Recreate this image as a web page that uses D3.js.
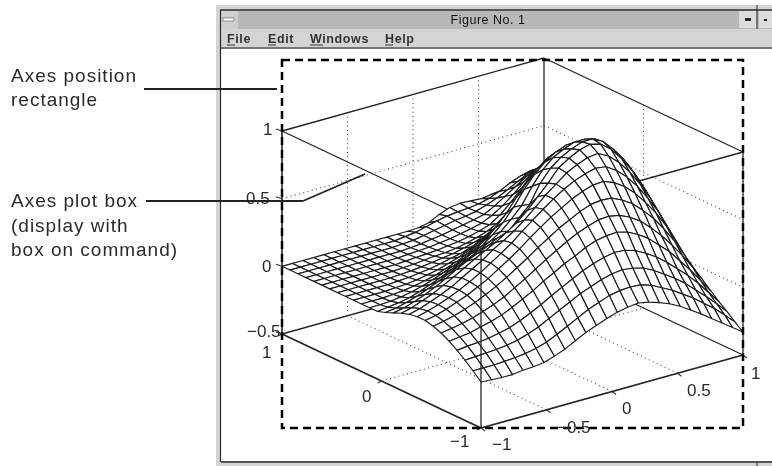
<!DOCTYPE html>
<html><head><meta charset="utf-8">
<script src="https://cdn.jsdelivr.net/npm/d3@7/dist/d3.min.js"></script>
<style>html,body{margin:0;padding:0;background:#fff;overflow:hidden}svg{display:block}
text{font-family:"Liberation Sans",Arial,sans-serif;fill:#2a2a2a}</style></head><body>
<svg id="c" width="772" height="466"><defs><filter id="soft" x="0" y="0" width="100%" height="100%"><feGaussianBlur stdDeviation="0.38"/></filter></defs></svg>
<script>
const xGrid = [-1,-.92,-.84,-.76,-.68,-.6,-.52,-.44,-.36,-.28,-.2,-.12,-.04,.04,.12,.2,.28,.36,.44,.52,.6,.68,.76,.84,.92,1];
const yGrid = [-1,-.92,-.84,-.76,-.68,-.6,-.52,-.44,-.36,-.28,-.2,-.12,-.04,.04,.12,.2,.28,.36,.44,.52,.6,.68,.76,.84,.92,1];
// surface heights, one row per yGrid value, one column per xGrid value
const zRows = [
[-.16,-.165,-.17,-.17,-.16,-.155,-.145,-.12,-.09,-.05,-.01,.02,.05,.075,.09,.10,.085,.06,.03,-.01,-.06,-.11,-.165,-.22,-.275,-.33],
[-.105,-.105,-.105,-.10,-.095,-.085,-.07,-.045,-.01,.03,.07,.11,.14,.17,.185,.19,.185,.16,.12,.08,.03,-.02,-.08,-.14,-.21,-.285],
[-.055,-.05,-.045,-.04,-.03,-.015,.01,.04,.08,.12,.16,.2,.23,.26,.28,.29,.28,.26,.22,.17,.12,.06,-.01,-.08,-.155,-.235],
[-.01,0,.005,.015,.03,.05,.08,.115,.155,.2,.24,.28,.32,.35,.375,.39,.385,.36,.32,.27,.21,.14,.07,-.01,-.10,-.19],
[.03,.04,.05,.07,.09,.115,.15,.19,.23,.28,.32,.365,.4,.44,.47,.485,.49,.47,.43,.38,.31,.24,.15,.06,-.04,-.14],
[.063,.075,.09,.11,.135,.165,.2,.245,.29,.34,.39,.435,.48,.52,.55,.575,.58,.565,.53,.48,.41,.33,.24,.14,.03,-.09],
[.085,.10,.12,.145,.175,.21,.25,.295,.345,.395,.45,.5,.55,.59,.63,.66,.67,.665,.63,.58,.51,.43,.33,.22,.09,-.04],
[.10,.115,.14,.17,.2,.24,.28,.33,.38,.435,.495,.55,.605,.65,.695,.73,.755,.76,.73,.68,.61,.52,.42,.3,.16,.01],
[.10,.12,.145,.175,.21,.25,.295,.345,.395,.45,.515,.575,.635,.69,.74,.78,.81,.83,.82,.77,.70,.61,.5,.38,.23,.07],
[.09,.11,.14,.17,.205,.25,.295,.34,.395,.44,.49,.55,.62,.69,.75,.81,.85,.88,.89,.85,.78,.69,.58,.45,.30,.13],
[.07,.09,.12,.15,.19,.23,.275,.32,.36,.40,.45,.50,.57,.65,.73,.82,.87,.91,.93,.91,.85,.76,.65,.52,.37,.21],
[.045,.06,.085,.115,.15,.19,.235,.275,.31,.345,.385,.41,.49,.565,.70,.79,.85,.89,.92,.92,.88,.80,.70,.58,.44,.29],
[.02,.03,.05,.075,.105,.14,.175,.215,.25,.29,.33,.38,.45,.53,.65,.75,.82,.86,.89,.89,.87,.81,.73,.63,.50,.36],
[0,.01,.02,.035,.06,.09,.12,.155,.195,.235,.27,.33,.40,.49,.60,.69,.76,.81,.84,.84,.83,.79,.73,.65,.54,.41],
[0,0,.005,.015,.03,.05,.075,.105,.135,.17,.21,.26,.33,.41,.51,.60,.68,.74,.77,.78,.77,.74,.70,.64,.55,.45],
[0,0,0,.005,.012,.025,.04,.06,.085,.115,.15,.19,.24,.30,.38,.47,.56,.64,.69,.71,.71,.69,.66,.62,.55,.48],
[0,0,0,0,.005,.01,.02,.035,.05,.075,.10,.13,.17,.21,.27,.34,.42,.51,.58,.63,.65,.65,.62,.59,.55,.50],
[0,0,0,0,0,.005,.01,.02,.03,.045,.065,.08,.105,.14,.18,.23,.3,.39,.48,.55,.59,.6,.59,.56,.53,.50],
[0,0,0,0,0,0,.005,.01,.018,.028,.04,.05,.07,.09,.115,.15,.21,.29,.38,.46,.52,.55,.55,.53,.51,.49],
[0,0,0,0,0,0,0,.005,.01,.018,.025,.03,.04,.055,.075,.10,.14,.2,.29,.38,.45,.49,.5,.49,.48,.46],
[0,0,0,0,0,0,0,0,.005,.01,.015,.02,.03,.04,.055,.075,.10,.15,.22,.3,.38,.42,.44,.44,.44,.42],
[0,0,0,0,0,0,0,0,0,.005,.01,.015,.025,.035,.05,.065,.085,.12,.17,.23,.3,.36,.39,.4,.39,.38],
[0,0,0,0,0,0,0,0,0,0,.005,.012,.025,.035,.05,.065,.08,.10,.14,.19,.24,.29,.33,.35,.34,.33],
[0,0,0,0,0,0,0,0,0,0,.005,.01,.025,.04,.055,.07,.08,.095,.12,.15,.19,.23,.27,.28,.29,.29],
[0,0,0,0,0,0,0,0,0,0,0,.01,.02,.04,.06,.075,.085,.09,.10,.12,.15,.19,.22,.24,.24,.24],
[0,0,0,0,0,0,0,0,0,0,0,0,0,.005,.02,.06,.09,.1,.095,.09,.1,.11,.13,.15,.18,.2]
];
const xTicks = [-1,-.5,0,.5,1];
const yTicks = [-1,0,1];
const zTicks = [-.5,0,.5,1];
const menuItems = [["File",227],["Edit",268],["Windows",310],["Help",385]];
const notes = [["Axes position",11,82],["rectangle",11,106],["Axes plot box",11,207],["(display with",11,232],["box on command)",11,256]];

const svg = d3.select("#c");
const root = svg.append("g").attr("filter","url(#soft)");

const xToH = d3.scaleLinear().domain([-1,1]).range([0,262]);
const xToV = d3.scaleLinear().domain([-1,1]).range([0,-73]);
const yToH = d3.scaleLinear().domain([-1,1]).range([0,-199]);
const yToV = d3.scaleLinear().domain([-1,1]).range([0,-94]);
const zToV = d3.scaleLinear().domain([-.5,1]).range([0,-203]);
const P = (x,y,z)=>[481+xToH(x)+yToH(y), 428+xToV(x)+yToV(y)+zToV(z)];
const seg = (g,a,b)=>g.append("line").attr("x1",a[0]).attr("y1",a[1]).attr("x2",b[0]).attr("y2",b[1]);

// window chrome
root.append("rect").attr("width",772).attr("height",466).attr("fill","#fff");
root.append("rect").attr("x",216).attr("y",5).attr("width",556).attr("height",461).attr("fill","#d4d4d4");
root.append("rect").attr("x",221).attr("y",11).attr("width",551).attr("height",18).attr("fill","#b8b8b8");
root.append("rect").attr("x",221).attr("y",11).attr("width",17).attr("height",18).attr("fill","#cfcfcf");
root.append("rect").attr("x",223).attr("y",18).attr("width",11).attr("height",3).attr("fill","#fff").attr("stroke","#555").attr("stroke-width",.6);
root.append("rect").attr("x",221).attr("y",29).attr("width",551).attr("height",18).attr("fill","#d4d4d4");
root.append("rect").attr("x",221).attr("y",49).attr("width",551).attr("height",412).attr("fill","#fff");
root.append("rect").attr("x",739).attr("y",11).attr("width",17).attr("height",17).attr("fill","#dcdcdc");
root.append("rect").attr("x",759).attr("y",11).attr("width",13).attr("height",17).attr("fill","#dcdcdc");
root.append("rect").attr("x",745).attr("y",18).attr("width",6).attr("height",3).attr("fill","#222");
root.append("rect").attr("x",764).attr("y",19).attr("width",3).attr("height",2).attr("fill","#222");
const chrome = root.append("g").attr("stroke","#2c2c2c").attr("fill","none");
seg(chrome,[220,10],[772,10]).attr("stroke-width",1.4);
seg(chrome,[220.5,10],[220.5,462]).attr("stroke-width",1.2);
seg(chrome,[221,48],[772,48]).attr("stroke-width",1.6).attr("stroke","#555");
seg(chrome,[221,462],[772,462]).attr("stroke-width",1.4);
seg(chrome,[757,5],[757,29]).attr("stroke-width",1);
seg(chrome,[757,462],[757,466]).attr("stroke-width",1);
root.append("text").attr("x",488).attr("y",24).attr("text-anchor","middle").attr("font-size",12.5).attr("letter-spacing",.5).style("fill","#111").text("Figure No. 1");
menuItems.forEach(([t,x])=>{
  root.append("text").attr("x",x).attr("y",43).attr("font-size",12.5).attr("font-weight","bold").attr("letter-spacing",.6).style("fill","#333").text(t);
  const w = t==="Windows"?13:8;
  seg(root,[x,45],[x+w,45]).attr("stroke","#333").attr("stroke-width",1);
});

// 3D box: parts behind the surface
const back = root.append("g").attr("fill","none").attr("stroke","#222").attr("stroke-width",1.3);
seg(back,P(-1,1,1),P(1,1,1)); seg(back,P(1,1,1),P(1,-1,1)); seg(back,P(1,-1,1),P(-1,-1,1)); seg(back,P(-1,-1,1),P(-1,1,1));
seg(back,P(-1,1,-.5),P(1,1,-.5)); seg(back,P(1,1,-.5),P(1,-1,-.5));
seg(back,P(1,1,-.5),P(1,1,1));
seg(back,P(-1,1,-.5),P(-1,1,1)).attr("stroke-width",1.6);

// dotted grid
const dots = root.append("g").attr("fill","none").attr("stroke","#444").attr("stroke-width",1.1).attr("stroke-dasharray","1 3.4");
xTicks.slice(1,-1).forEach(x=>{ seg(dots,P(x,-1,-.5),P(x,1,-.5)); seg(dots,P(x,1,-.5),P(x,1,1)); });
yTicks.slice(1,-1).forEach(y=>{ seg(dots,P(-1,y,-.5),P(1,y,-.5)); seg(dots,P(1,y,-.5),P(1,y,1)); });
zTicks.slice(1,-1).forEach(z=>{ seg(dots,P(-1,1,z),P(1,1,z)); seg(dots,P(1,1,z),P(1,-1,z)); });

// mesh, painted back to front with white cell fill
const cell = d3.line().curve(d3.curveLinearClosed);
const mesh = root.append("g").attr("fill","#fff").attr("stroke","#1c1c1c").attr("stroke-width",1.15).attr("stroke-linejoin","round");
for(let j=yGrid.length-2;j>=0;j--) for(let i=xGrid.length-2;i>=0;i--){
  mesh.append("path").attr("d",cell([
    P(xGrid[i],yGrid[j],zRows[j][i]),P(xGrid[i+1],yGrid[j],zRows[j][i+1]),
    P(xGrid[i+1],yGrid[j+1],zRows[j+1][i+1]),P(xGrid[i],yGrid[j+1],zRows[j+1][i])]));
}

// box edges in front
const front = root.append("g").attr("fill","none").attr("stroke","#222").attr("stroke-width",1.3);
seg(front,P(-1,-1,-.5),P(-1,-1,.82));
seg(front,P(-1,1,-.5),P(-1,-1,-.5)).attr("stroke-width",1.7);
seg(front,P(-1,-1,-.5),P(1,-1,-.5)).attr("stroke-width",1.7);
seg(front,P(1,-1,-.5),P(1,-1,1));

// ticks
const ticks = root.append("g").attr("stroke","#333").attr("stroke-width",1.1);
zTicks.forEach(z=>{const p=P(-1,1,z); seg(ticks,[p[0]-6,p[1]-2],p);});
xTicks.forEach(x=>{const p=P(x,-1,-.5); seg(ticks,p,[p[0]+4,p[1]+3]);});
yTicks.forEach(y=>{const p=P(-1,y,-.5); seg(ticks,p,[p[0]-4,p[1]+2]);});

// position rectangle
root.append("rect").attr("x",282).attr("y",60).attr("width",461).attr("height",368)
  .attr("fill","none").attr("stroke","#000").attr("stroke-width",2.5).attr("stroke-dasharray","8 5");

// tick labels
const fmt = v=>String(v).replace("-","\u2212");
const tl = root.append("g").attr("font-size",17);
const zLab = {"1":[263,135],"0.5":[246,204],"0":[262,272],"-0.5":[247,337]};
zTicks.forEach(z=>{const k=String(z),q=zLab[k]; tl.append("text").attr("x",q[0]).attr("y",q[1]).text(fmt(z));});
const xLab = [[492,450],[557,433],[622,414],[687,396],[751,379]];
xTicks.forEach((x,i)=>tl.append("text").attr("x",xLab[i][0]).attr("y",xLab[i][1]).text(fmt(x)));
const yLab = [[450,447],[362,402],[262,358]];
yTicks.forEach((y,i)=>tl.append("text").attr("x",yLab[i][0]).attr("y",yLab[i][1]).text(fmt(y)));

// annotations
notes.forEach(([t,x,y])=>root.append("text").attr("x",x).attr("y",y).attr("font-size",19).attr("letter-spacing",1).text(t));
const lead = root.append("g").attr("stroke","#222").attr("stroke-width",1.9).attr("fill","none");
seg(lead,[144,89],[277,89]);
seg(lead,[146,201],[303,201]);
seg(lead,[303,201],[365,174]);
</script></body></html>
